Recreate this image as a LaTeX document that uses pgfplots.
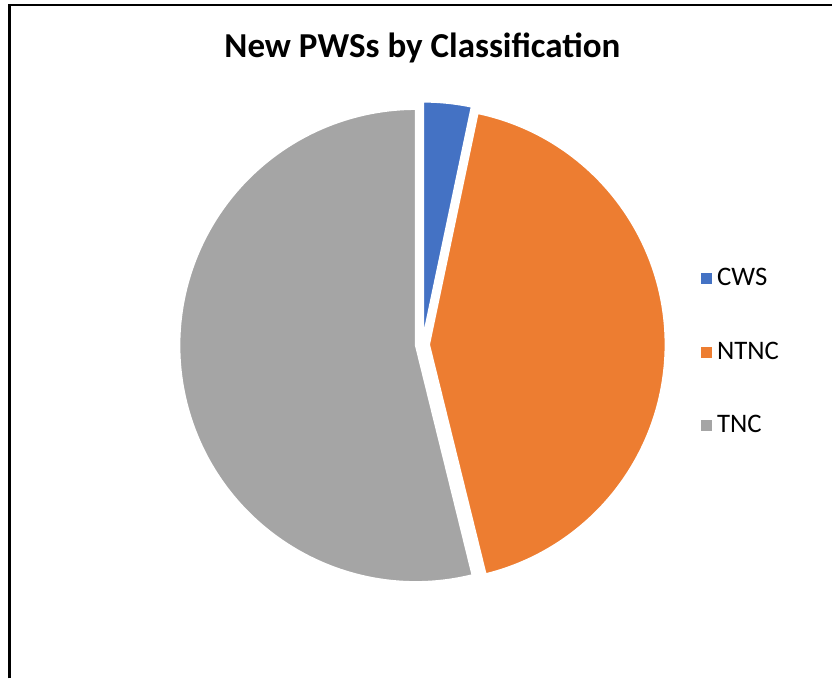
\documentclass[border=0pt]{standalone}
\usepackage{fontspec}
\setmainfont{Carlito}
\usepackage{pgfplots}
\usepackage{pgfplotstable}
\pgfplotsset{compat=1.18}
\definecolor{cwsblue}{HTML}{4472C4}
\definecolor{ntncorange}{HTML}{ED7D31}
\definecolor{tncgray}{HTML}{A5A5A5}
\pgfplotstableread{
label value
CWS 3
NTNC 39
TNC 49
}\piedata
\begin{document}
\begin{tikzpicture}
\pgfplotstablegetelem{0}{value}\of\piedata \let\va\pgfplotsretval
\pgfplotstablegetelem{1}{value}\of\piedata \let\vb\pgfplotsretval
\pgfplotstablegetelem{2}{value}\of\piedata \let\vc\pgfplotsretval
\pgfmathsetmacro{\tot}{\va+\vb+\vc}
\pgfmathsetmacro{\aA}{90}
\pgfmathsetmacro{\aB}{\aA-360*(\va/\tot)}
\pgfmathsetmacro{\aC}{\aB-360*(\vb/\tot)}
\pgfmathsetmacro{\aD}{\aC-360*(\vc/\tot)}
\pgfmathsetmacro{\mA}{(\aA+\aB)/2}
\pgfmathsetmacro{\mB}{(\aB+\aC)/2}
\pgfmathsetmacro{\mC}{(\aC+\aD)/2}
\begin{axis}[
  hide axis, scale only axis,
  width=12cm, height=9.7815cm,
  xmin=0, xmax=833, ymin=0, ymax=679,
  clip=false,
  legend style={at={(axis cs:696,420)}, anchor=north west, draw=none,
    font=\fontsize{11}{13}\selectfont, row sep=17.6pt,
    legend cell align=left},
  legend image code/.code={\fill[#1] (0cm,-0.07cm) rectangle (0.145cm,0.075cm);},
]
\path (axis cs:0,0) rectangle (axis cs:833,679);
\draw[black, line width=0.9pt] (axis cs:9.5,-2) -- (axis cs:9.5,674) -- (axis cs:835,674);
\node[font=\fontsize{14.4}{17}\selectfont\bfseries] at (axis cs:424,631) {New PWSs by Classification};
\fill[cwsblue, draw=white, line width=0.8pt, shift={(\mA:0.095cm)}]
  (axis cs:424,333) -- ++(\aA:3.42cm) arc[start angle=\aA, end angle=\aB, radius=3.42cm] -- cycle;
\fill[ntncorange, draw=white, line width=0.8pt, shift={(\mB:0.095cm)}]
  (axis cs:424,333) -- ++(\aB:3.42cm) arc[start angle=\aB, end angle=\aC, radius=3.42cm] -- cycle;
\fill[tncgray, draw=white, line width=0.8pt, shift={(\mC:0.095cm)}]
  (axis cs:424,333) -- ++(\aC:3.42cm) arc[start angle=\aC, end angle=\aD, radius=3.42cm] -- cycle;
\addlegendimage{cwsblue}
\addlegendentry{CWS}
\addlegendimage{ntncorange}
\addlegendentry{NTNC}
\addlegendimage{tncgray}
\addlegendentry{TNC}
\end{axis}
\end{tikzpicture}
\end{document}
